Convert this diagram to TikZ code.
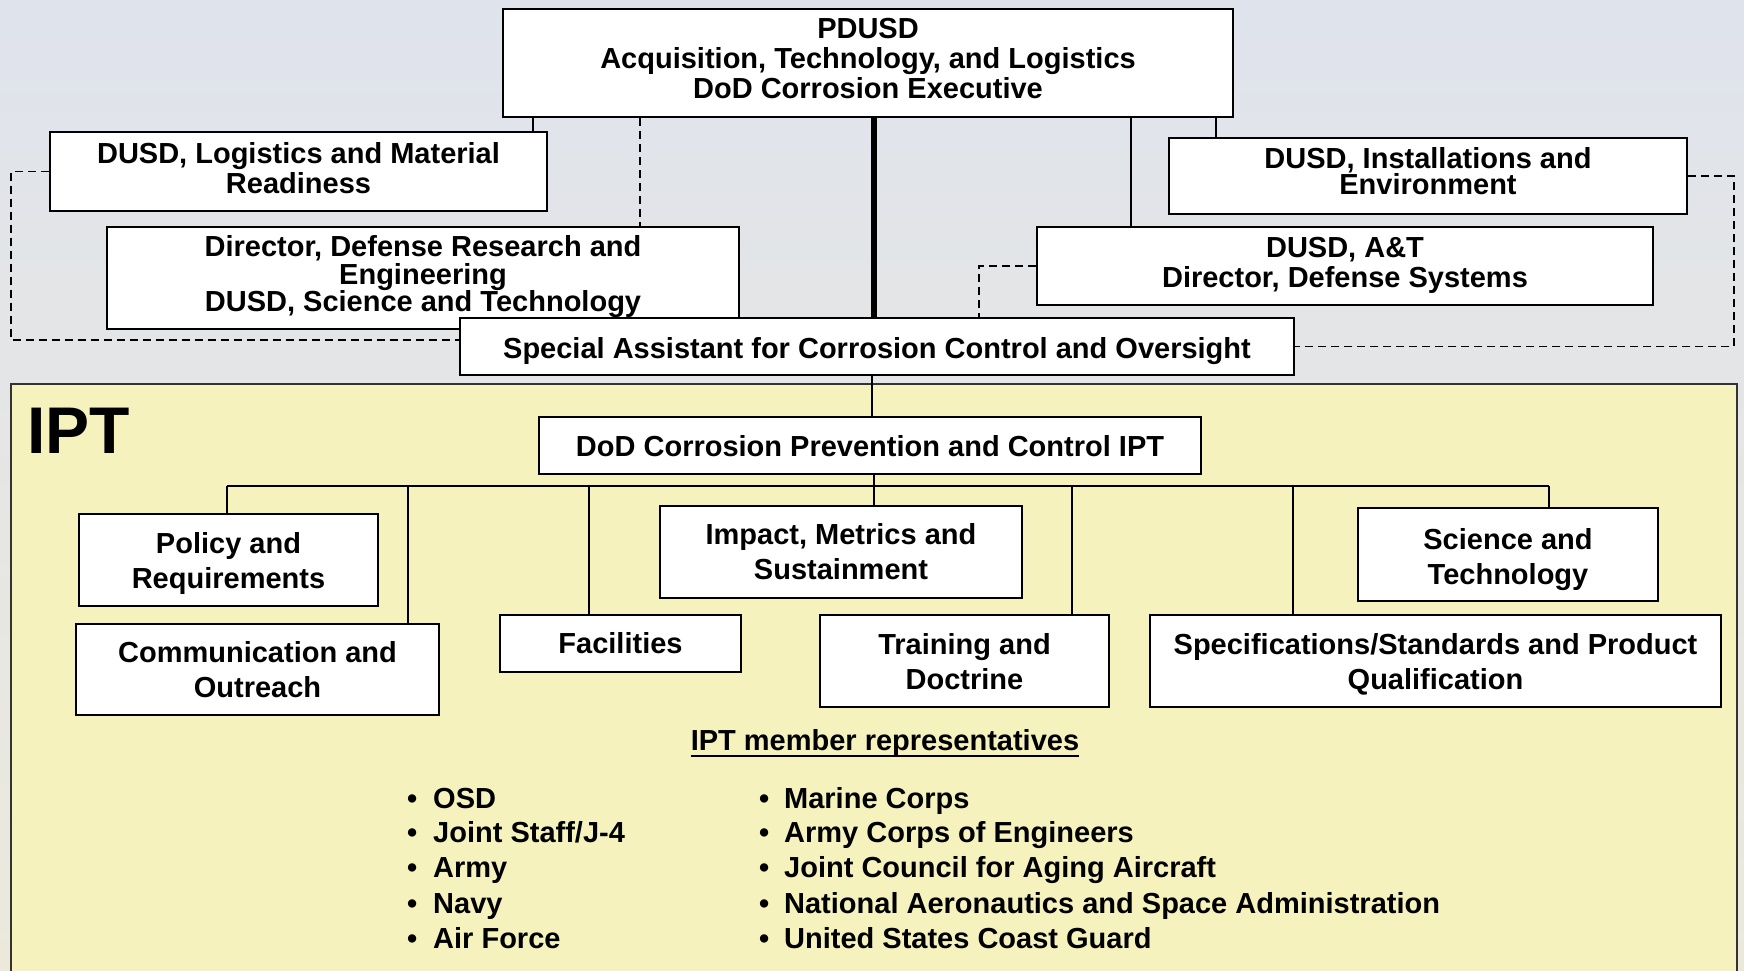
\documentclass[tikz,border=0pt]{standalone}
\usepackage{fontspec}
\setmainfont{Liberation Sans}
\definecolor{bgtop}{HTML}{DFE3EC}
\definecolor{bgbot}{HTML}{ECE9DC}
\definecolor{iptfill}{HTML}{F5F2BE}
\definecolor{iptline}{HTML}{333333}
\begin{document}
\begin{tikzpicture}[x=1pt,y=-1pt,
  box/.style={draw=black, fill=white, line width=2.2pt, inner sep=0pt},
  txt/.style={align=center, inner sep=0pt, font=\fontsize{29}{30}\selectfont\bfseries},
  stxt/.style={txt, font=\fontsize{29}{35}\selectfont\bfseries},
  conn/.style={line width=1.8pt},
  dconn/.style={line width=1.9pt, dash pattern=on 8pt off 5pt},
  item/.style={anchor=base west, inner sep=0pt, font=\fontsize{29}{30}\selectfont\bfseries}]
\useasboundingbox (0,0) rectangle (1744,970);
\shade[top color=bgtop, bottom color=bgbot] (0,0) rectangle (1744,970);
\begin{scope}
\clip (0,0) rectangle (1744,970);
\draw[fill=iptfill, draw=iptline, line width=2.2pt] (11,384) rectangle (1737,990);
\end{scope}

% top boxes
\node[box, minimum width=730pt, minimum height=108pt] (pd) at (868,63) {};
\node[txt] (pdT) at (868,59) {PDUSD\\Acquisition, Technology, and Logistics\\DoD Corrosion Executive};
\node[box, minimum width=497pt, minimum height=79pt] (log) at (298.5,171.5) {};
\node[txt] (logT) at (298.5,168) {DUSD, Logistics and Material\\Readiness};
\node[box, minimum width=632pt, minimum height=102pt] (ddre) at (423,278) {};
\node[txt, font=\fontsize{29}{27.5}\selectfont\bfseries] (ddreT) at (423,277) {Director, Defense Research and\\Engineering\\DUSD, Science and Technology};
\node[box, minimum width=518pt, minimum height=76pt] (ie) at (1428,176) {};
\node[txt, font=\fontsize{29}{26}\selectfont\bfseries] (ieT) at (1428,171.5) {DUSD, Installations and\\Environment};
\node[box, minimum width=616pt, minimum height=78pt] (at) at (1345,266) {};
\node[txt] (atT) at (1345,265) {DUSD, A\&T\\Director, Defense Systems};
\node[box, minimum width=834pt, minimum height=57pt] (sa) at (877,346.5) {};
\node[txt] (saT) at (877,351) {Special Assistant for Corrosion Control and Oversight};

% top connectors
\draw[line width=5.5pt] (pd.south -| 874,0) -- (sa.north -| 874,0);
\draw[conn] (pd.south -| 533,0) -- (log.north -| 533,0);
\draw[dconn] (pd.south -| 640,0) -- (ddre.north -| 640,0);
\draw[conn] (pd.south -| 1131,0) -- (at.north -| 1131,0);
\draw[conn] (pd.south -| 1216,0) -- (ie.north -| 1216,0);
\draw[dconn] (log.west) -| (11,340) -- (sa.west |- 0,340);
\draw[dconn] (at.west) -| (sa.north -| 979,0);
\draw[dconn] (ie.east) -| (1734,346.5) -- (sa.east);

% IPT
\node[anchor=base west, inner sep=0pt, font=\fontsize{66}{70}\selectfont\bfseries] (ipt) at (27,453) {IPT};
\node[box, minimum width=662pt, minimum height=57pt] (dod) at (870,445.5) {};
\node[txt] (dodT) at (870,446) {DoD Corrosion Prevention and Control IPT};
\draw[conn] (sa.south -| 872,0) -- (dod.north -| 872,0);

\node[box, minimum width=299pt, minimum height=92pt] (pol) at (228.5,560) {};
\node[stxt] (polT) at (228.5,563.5) {Policy and\\Requirements};
\node[box, minimum width=363pt, minimum height=91pt] (comm) at (257.5,669.5) {};
\node[stxt] (commT) at (257.5,670) {Communication and\\Outreach};
\node[box, minimum width=241pt, minimum height=57pt] (fac) at (620.5,643.5) {};
\node[stxt] (facT) at (620.5,643.5) {Facilities};
\node[box, minimum width=362pt, minimum height=92pt] (imp) at (841,552) {};
\node[stxt] (impT) at (841,552) {Impact, Metrics and\\Sustainment};
\node[box, minimum width=289pt, minimum height=92pt] (tra) at (964.5,661) {};
\node[stxt] (traT) at (964.5,662) {Training and\\Doctrine};
\node[box, minimum width=300pt, minimum height=93pt] (sci) at (1508,554.5) {};
\node[stxt] (sciT) at (1508,559.5) {Science and\\Technology};
\node[box, minimum width=571pt, minimum height=92pt] (spec) at (1435.5,661) {};
\node[stxt] (specT) at (1435.5,664) {Specifications/Standards and Product\\Qualification};

\coordinate (busL) at (227,486);
\coordinate (busR) at (1549,486);
\draw[conn] (busL) -- (busR);
\draw[conn] (dod.south -| 874,0) -- (imp.north -| 874,0);
\draw[conn] (busL) -- (pol.north -| busL);
\draw[conn] (408,486) -- (comm.north -| 408,0);
\draw[conn] (589,486) -- (fac.north -| 589,0);
\draw[conn] (1072,486) -- (tra.north -| 1072,0);
\draw[conn] (1293,486) -- (spec.north -| 1293,0);
\draw[conn] (busR) -- (sci.north -| busR);

% members
\node[anchor=base, inner sep=0pt, font=\fontsize{29}{30}\selectfont\bfseries] (hd) at (885,750) {IPT member representatives};
\draw[line width=2.6pt] ([yshift=-6pt]hd.base west) -- ([yshift=-6pt]hd.base east);

\node[item] (a1) at (407,808) {\makebox[26pt][l]{•}OSD};
\node[item] (a2) at (407,842.5) {\makebox[26pt][l]{•}Joint Staff/J-4};
\node[item] (a3) at (407,877.5) {\makebox[26pt][l]{•}Army};
\node[item] (a4) at (407,913) {\makebox[26pt][l]{•}Navy};
\node[item] (a5) at (407,948) {\makebox[26pt][l]{•}Air Force};
\node[item] (b1) at (759,808) {\makebox[25pt][l]{•}Marine Corps};
\node[item] (b2) at (759,842.5) {\makebox[25pt][l]{•}Army Corps of Engineers};
\node[item] (b3) at (759,877.5) {\makebox[25pt][l]{•}Joint Council for Aging Aircraft};
\node[item] (b4) at (759,913) {\makebox[25pt][l]{•}National Aeronautics and Space Administration};
\node[item] (b5) at (759,948) {\makebox[25pt][l]{•}United States Coast Guard};
\end{tikzpicture}
\end{document}
